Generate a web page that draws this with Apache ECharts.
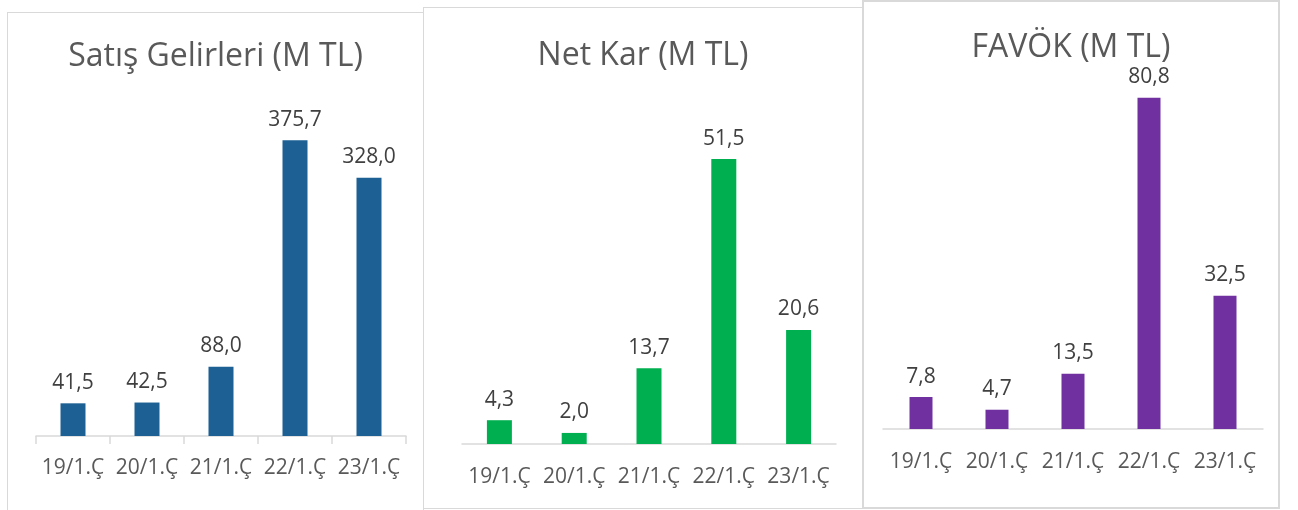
<!DOCTYPE html>
<html><head><meta charset="utf-8">
<script src="https://cdn.jsdelivr.net/npm/echarts@6/dist/echarts.min.js"></script>
<style>
html,body{margin:0;padding:0;background:#fff;width:1298px;height:510px;overflow:hidden;}
.p{position:absolute;box-sizing:border-box;border:1px solid #d9d9d9;background:#fff;}
</style></head><body>
<div id="c1" class="p" style="left:7px;top:12px;width:417px;height:500px;"></div>
<div id="c2" class="p" style="left:423px;top:7px;width:440px;height:502px;"></div>
<div id="c3" class="p" style="left:862px;top:0px;width:418px;height:509px;border-width:2px;"></div>
<script>
const categories = ['19/1.Ç','20/1.Ç','21/1.Ç','22/1.Ç','23/1.Ç'];
const salesValues = [41.5, 42.5, 88.0, 375.7, 328.0];
const netProfitValues = [4.3, 2.0, 13.7, 51.5, 20.6];
const ebitdaValues = [7.8, 4.7, 13.5, 80.8, 32.5];
const titles = ['Satış Gelirleri (M TL)', 'Net Kar (M TL)', 'FAVÖK (M TL)'];

const FONT = '"Open Sans", sans-serif';
const fmt = v => v.toFixed(1).replace('.', ',');

function make(id, title, values, color, cfg) {
  const chart = echarts.init(document.getElementById(id), null, {renderer: 'canvas'});
  chart.setOption({
    animation: false,
    title: {
      text: title, left: 'center', top: cfg.titleTop,
      textStyle: {fontFamily: FONT, fontSize: 32, fontWeight: 'normal', color: '#595959'}
    },
    grid: {left: cfg.left, width: cfg.width, top: cfg.top, height: cfg.height, containLabel: false},
    xAxis: {
      type: 'category', data: categories,
      axisLine: {show: true, lineStyle: {color: '#d9d9d9', width: 1.5}},
      axisTick: {show: cfg.ticks, length: 8, lineStyle: {color: '#d9d9d9', width: 1.5}},
      axisLabel: {interval: 0, hideOverlap: false, fontFamily: FONT, fontSize: 21, color: '#595959', margin: cfg.labelMargin}
    },
    yAxis: {type: 'value', min: 0, max: cfg.max, show: false, splitLine: {show: false}},
    series: [{
      type: 'bar', data: values, barWidth: cfg.barWidth,
      itemStyle: {color: color},
      label: {show: true, position: 'top', distance: 10, formatter: p => fmt(p.value),
        fontFamily: FONT, fontSize: 21, color: '#404040'}
    }]
  });
}

make('c1', titles[0], salesValues, '#1d6094',
  {titleTop: 23, left: 28, width: 370, top: 108, height: 315, max: 400, ticks: true, labelMargin: 22, barWidth: 25});
make('c2', titles[1], netProfitValues, '#00b050',
  {titleTop: 27, left: 38, width: 374, top: 104, height: 332, max: 60, ticks: false, labelMargin: 23, barWidth: 25});
make('c3', titles[2], ebitdaValues, '#7030a0',
  {titleTop: 25, left: 19, width: 380, top: 58, height: 369, max: 90, ticks: false, labelMargin: 23, barWidth: 23});
</script>
</body></html>
